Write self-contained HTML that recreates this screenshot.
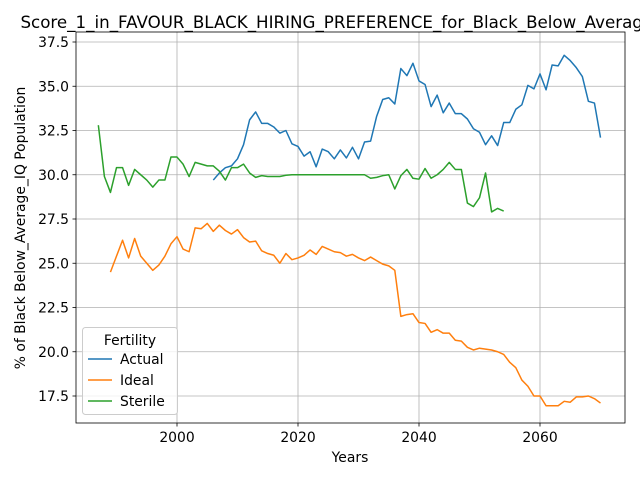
<!DOCTYPE html>
<html><head><meta charset="utf-8"><style>
body{margin:0;background:#fff;overflow:hidden}
svg{font-family:"DejaVu Sans","Liberation Sans",sans-serif}
</style></head><body>
<svg id="c" width="640" height="480"></svg>
<script>
const years0Actual=2006, years0Ideal=1989, years0Sterile=1987;
const actual=[29.7,30.1,30.4,30.5,30.9,31.7,33.1,33.55,32.9,32.9,32.7,32.35,32.5,31.75,31.6,31.05,31.3,30.45,31.45,31.3,30.9,31.4,30.95,31.55,30.9,31.85,31.9,33.3,34.25,34.35,34.0,36.0,35.6,36.3,35.3,35.1,33.85,34.5,33.5,34.05,33.45,33.45,33.15,32.6,32.4,31.7,32.2,31.65,32.95,32.95,33.7,33.95,35.05,34.85,35.7,34.8,36.2,36.15,36.75,36.45,36.05,35.55,34.15,34.05,32.1];
const ideal=[24.5,25.4,26.3,25.3,26.4,25.4,25.0,24.6,24.9,25.4,26.1,26.5,25.8,25.65,27.0,26.95,27.25,26.8,27.15,26.85,26.65,26.9,26.45,26.2,26.25,25.7,25.55,25.45,25.0,25.55,25.2,25.3,25.45,25.75,25.5,25.95,25.8,25.65,25.6,25.4,25.5,25.3,25.15,25.35,25.15,24.95,24.85,24.6,22.0,22.1,22.15,21.65,21.6,21.1,21.25,21.05,21.05,20.65,20.6,20.25,20.1,20.2,20.15,20.1,20.0,19.85,19.4,19.1,18.4,18.05,17.5,17.5,16.95,16.95,16.95,17.2,17.15,17.45,17.45,17.5,17.35,17.1];
const sterile=[32.8,29.9,29.0,30.4,30.4,29.4,30.3,30.0,29.7,29.3,29.7,29.7,31.0,31.0,30.6,29.9,30.7,30.6,30.5,30.5,30.2,29.7,30.4,30.4,30.6,30.1,29.85,29.95,29.9,29.9,29.9,29.97,30,30,30,30,30,30,30,30,30,30,30,30,30,29.8,29.85,29.95,30.0,29.2,29.95,30.3,29.8,29.75,30.35,29.8,30.0,30.3,30.7,30.3,30.3,28.4,28.2,28.7,30.1,27.9,28.1,27.95];
const xTicks=[2000,2020,2040,2060];
const yTicks=[17.5,20.0,22.5,25.0,27.5,30.0,32.5,35.0,37.5];
const L=76,R=625,T=32,B=423;
const x=v=>177+(v-2000)*121/20;
const y=v=>42+(37.5-v)*354/20;
const svg=document.getElementById('c');const NS='http://www.w3.org/2000/svg';
function mk(t,a,p){const e=document.createElementNS(NS,t);for(const k in a)e.setAttribute(k,a[k]);(p||svg).appendChild(e);return e;}
xTicks.forEach(v=>{const g=mk('line',{x1:x(v),x2:x(v),y1:T,y2:B,stroke:'#b0b0b0','stroke-width':0.8});


const tk=mk('line',{x1:x(v),x2:x(v),y1:B,y2:B+3.5,stroke:'#000','stroke-width':0.8});


const t=mk('text',{x:x(v),y:B+19,'text-anchor':'middle','font-size':13.9});t.textContent=v;

});
yTicks.forEach(v=>{const g=mk('line',{x1:L,x2:R,y1:y(v),y2:y(v),stroke:'#b0b0b0','stroke-width':0.8});


const tk=mk('line',{x1:L-3.5,x2:L,y1:y(v),y2:y(v),stroke:'#000','stroke-width':0.8});


const t=mk('text',{x:L-7,y:y(v)+5,'text-anchor':'end','font-size':13.9});t.textContent=v.toFixed(1);

});
function series(arr,y0,col,name){const pts=arr.map((v,i)=>x(y0+i).toFixed(2)+','+y(v).toFixed(2)).join(' ');
const p=mk('polyline',{points:pts,fill:'none',stroke:col,'stroke-width':1.5,'stroke-linejoin':'round'});

}
series(actual,years0Actual,'#1f77b4','actual-line');
series(ideal,years0Ideal,'#ff7f0e','ideal-line');
series(sterile,years0Sterile,'#2ca02c','sterile-line');
</script>
<svg width="640" height="480" style="position:absolute;left:0;top:0">
<rect x="76" y="32" width="549" height="391" fill="none" stroke="#000" stroke-width="0.8"/>
<text x="350" y="28" text-anchor="middle" font-size="16.7">Score_1_in_FAVOUR_BLACK_HIRING_PREFERENCE_for_Black_Below_Average_IQ</text>
<text x="350" y="462" text-anchor="middle" font-size="13.9">Years</text>
<text transform="translate(25,228) rotate(-90)" text-anchor="middle" font-size="13.9">% of Black Below_Average_IQ Population</text>
<g>
<rect x="82.5" y="327.5" width="95" height="87" rx="3" fill="#fff" fill-opacity="0.8" stroke="#ccc"/>
<text x="130" y="345" text-anchor="middle" font-size="13.9">Fertility</text>
<line x1="88" x2="112" y1="359" y2="359" stroke="#1f77b4" stroke-width="1.5"/>
<text x="120" y="364" font-size="13.9">Actual</text>
<line x1="88" x2="112" y1="380" y2="380" stroke="#ff7f0e" stroke-width="1.5"/>
<text x="120" y="385" font-size="13.9">Ideal</text>
<line x1="88" x2="112" y1="401" y2="401" stroke="#2ca02c" stroke-width="1.5"/>
<text x="120" y="406" font-size="13.9">Sterile</text>
</g>
</svg>
</body></html>
